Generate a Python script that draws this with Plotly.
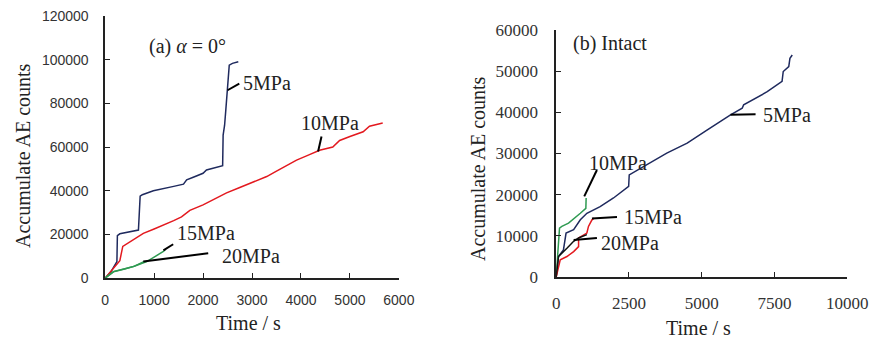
import plotly.graph_objects as go

# ---------------- Panel (a) alpha = 0 deg ----------------
a5_t = [0, 120, 240, 250, 300, 450, 680, 715, 760, 985, 1200, 1400, 1600, 1665, 1800, 2000, 2070, 2250, 2400, 2410, 2440, 2465, 2500, 2535, 2600, 2720]
a5_y = [0, 3000, 7500, 19500, 20300, 21000, 22000, 37500, 38200, 40000, 41200, 42000, 43000, 45000, 46200, 48000, 49500, 50500, 51500, 65500, 70000, 77000, 86000, 97500, 98300, 99000]

a10_t = [0, 150, 270, 300, 360, 500, 780, 1000, 1255, 1400, 1560, 1730, 2000, 2210, 2480, 2750, 3020, 3300, 3500, 3700, 3910, 4150, 4380, 4650, 4790, 5000, 5270, 5400, 5670]
a10_y = [0, 4000, 7600, 8000, 14500, 16500, 20500, 22500, 24800, 26300, 28000, 31000, 33500, 35800, 39000, 41500, 44000, 46500, 49000, 51300, 54000, 56300, 58500, 60000, 63000, 64800, 67000, 69500, 71000]

a15_t = [0, 170, 400, 580, 850, 1000, 1190, 1230]
a15_y = [0, 3000, 4300, 5300, 7600, 9500, 12200, 13000]

a20_t = [0, 170, 400, 600, 800]
a20_y = [0, 2900, 4200, 5500, 7600]

# ---------------- Panel (b) Intact ----------------
b5_t = [0, 80, 250, 310, 340, 600, 710, 830, 1055, 1510, 1970, 2490, 2510, 3120, 3800, 4500, 4950, 5180, 5990, 6390, 6440, 7250, 7760, 7800, 7990, 8030, 8110]
b5_y = [0, 5000, 6600, 9000, 10700, 11500, 12700, 13900, 15500, 17100, 19200, 22000, 24800, 27300, 30100, 32500, 34500, 35700, 39400, 41000, 41800, 45000, 47500, 49900, 51100, 53100, 53900]

b10_t = [0, 80, 115, 195, 425, 830, 1020, 1030]
b10_y = [0, 7000, 11900, 12300, 13100, 15500, 16700, 19200]

b15_t = [0, 140, 370, 600, 770, 770, 1055, 1110, 1230, 1300]
b15_y = [0, 4200, 5000, 6200, 7400, 9500, 10700, 12300, 13900, 14300]

b20_t = [0, 80, 370, 600, 770, 1055]
b20_y = [0, 5000, 7000, 8700, 9500, 10300]

a_xticks = [0, 1000, 2000, 3000, 4000, 5000, 6000]
a_yticks = [0, 20000, 40000, 60000, 80000, 100000, 120000]
b_xticks = [0, 2500, 5000, 7500, 10000]
b_yticks = [0, 10000, 20000, 30000, 40000, 50000, 60000]

NAVY = "#1f2a5e"
RED = "#e3191f"
GREEN = "#2f9a52"
BLACK = "#111111"
SERIF = "Liberation Serif, Times New Roman, serif"
SANS = "Liberation Sans, Arial, sans-serif"

fig = go.Figure()
lw = 1.5
for t, y, c in [(a5_t, a5_y, NAVY), (a10_t, a10_y, RED), (a20_t, a20_y, GREEN), (a15_t, a15_y, GREEN)]:
    fig.add_trace(go.Scatter(x=t, y=y, mode="lines", line=dict(color=c, width=lw), xaxis="x", yaxis="y", showlegend=False))
for t, y, c in [(b5_t, b5_y, NAVY), (b10_t, b10_y, GREEN), (b15_t, b15_y, RED), (b20_t, b20_y, BLACK)]:
    fig.add_trace(go.Scatter(x=t, y=y, mode="lines", line=dict(color=c, width=lw), xaxis="x2", yaxis="y2", showlegend=False))

axis_common = dict(showgrid=False, zeroline=False, showline=True, linecolor="#222222", linewidth=1.5,
                   ticks="inside", ticklen=5, tickwidth=1.3, tickcolor="#222222", mirror=False,
                   automargin=False)

fig.update_layout(
    width=869, height=340,
    margin=dict(l=0, r=0, t=0, b=0),
    paper_bgcolor="white", plot_bgcolor="white",
    xaxis=dict(domain=[0.121, 0.459], range=[0, 6000], tickvals=a_xticks, ticktext=[str(v) for v in a_xticks],
               anchor="y", ticklabelstandoff=8, tickfont=dict(family=SANS, size=14, color="#333333"), **axis_common),
    yaxis=dict(domain=[0.182, 0.953], range=[0, 120000], tickvals=a_yticks, ticktext=[str(v) for v in a_yticks],
               anchor="x", ticklabelstandoff=12, tickfont=dict(family=SANS, size=14, color="#333333"), **axis_common),
    xaxis2=dict(domain=[0.640, 0.975], range=[0, 10000], tickvals=b_xticks, ticktext=[str(v) for v in b_xticks],
                anchor="y2", ticklabelstandoff=10, tickfont=dict(family=SERIF, size=17, color="#333333"), **axis_common),
    yaxis2=dict(domain=[0.185, 0.912], range=[0, 60000], tickvals=b_yticks, ticktext=[str(v) for v in b_yticks],
                anchor="x2", ticklabelstandoff=13, tickfont=dict(family=SERIF, size=17, color="#333333"), **axis_common),
)

# pointer lines: (x0, y0, x1, y1) per axis
a_pointers = [(2500, 86000, 2740, 89000), (4350, 58000, 4420, 64800),
              (1190, 12700, 1390, 15500), (780, 7600, 2105, 11400)]
b_pointers = [(5990, 39400, 6850, 39500), (965, 19600, 1400, 26000),
              (1230, 14200, 2090, 14600), (600, 9000, 1400, 9500)]
for (x0, y0, x1, y1) in a_pointers:
    fig.add_shape(type="line", x0=x0, y0=y0, x1=x1, y1=y1, xref="x", yref="y", line=dict(color="black", width=2))
for (x0, y0, x1, y1) in b_pointers:
    fig.add_shape(type="line", x0=x0, y0=y0, x1=x1, y1=y1, xref="x2", yref="y2", line=dict(color="black", width=2))

a_labels = [("5MPa", 2785, 89500), ("10MPa", 3970, 71000), ("15MPa", 1430, 20600), ("20MPa", 2345, 10200)]
b_labels = [("5MPa", 7020, 39400), ("10MPa", 1050, 27700), ("15MPa", 2260, 14700), ("20MPa", 1460, 8250)]
for txt, x, y in a_labels:
    fig.add_annotation(text=txt, x=x, y=y, xref="x", yref="y", xanchor="left", yanchor="middle", showarrow=False,
                       font=dict(family=SERIF, size=20, color="#222222"))
for txt, x, y in b_labels:
    fig.add_annotation(text=txt, x=x, y=y, xref="x2", yref="y2", xanchor="left", yanchor="middle", showarrow=False,
                       font=dict(family=SERIF, size=20, color="#222222"))

# panel titles
fig.add_annotation(text="(a) <i>α</i> = 0°", x=850, y=106000, xref="x", yref="y", xanchor="left", yanchor="middle",
                   showarrow=False, font=dict(family=SERIF, size=20, color="#222222"))
fig.add_annotation(text="(b) Intact", x=520, y=56800, xref="x2", yref="y2", xanchor="left", yanchor="middle",
                   showarrow=False, font=dict(family=SERIF, size=20, color="#222222"))

# axis titles
for x, y, txt, ang in [(23, 156, "Accumulate AE counts", -90), (248, 323, "Time / s", 0),
                       (478, 168, "Accumulate AE counts", -90), (698, 328, "Time / s", 0)]:
    fig.add_annotation(text=txt, x=x / 869, y=1 - y / 340, xref="paper", yref="paper", xanchor="center",
                       yanchor="middle", showarrow=False, textangle=ang,
                       font=dict(family=SERIF, size=20, color="#222222"))

fig.write_html("out.html")
